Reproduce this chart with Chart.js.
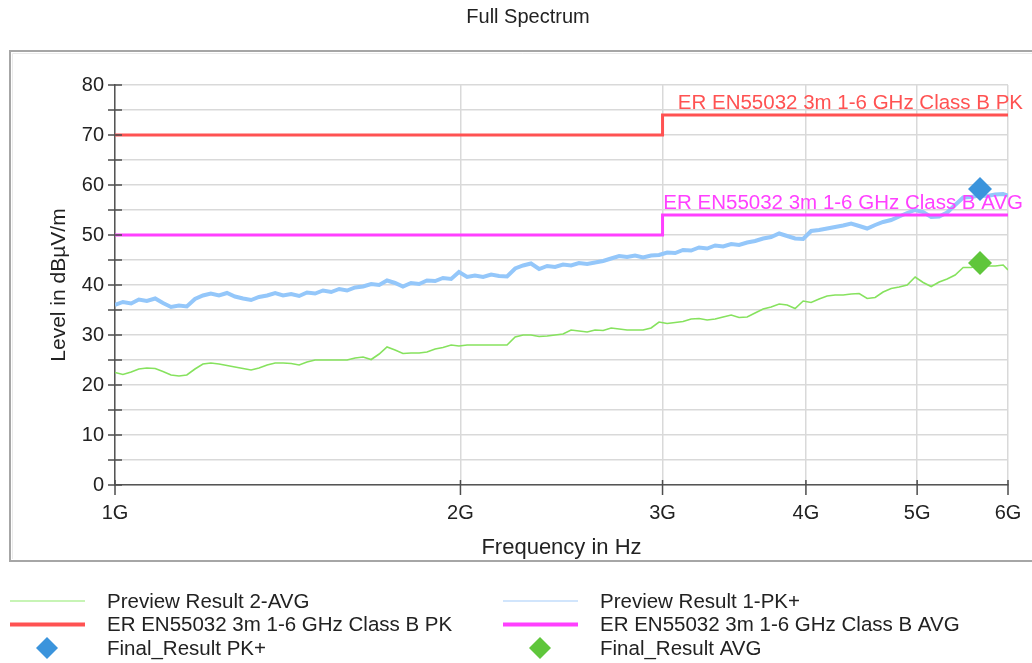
<!DOCTYPE html>
<html><head><meta charset="utf-8">
<script src="https://cdn.jsdelivr.net/npm/chart.js@4.4.1/dist/chart.umd.min.js"></script>
<style>html,body{margin:0;padding:0;background:#fff;overflow:hidden}#wrap{width:1032px;height:663px;position:relative}canvas{display:block}</style>
</head><body><div id="wrap"><canvas id="c" width="1032" height="663"></canvas></div>
<script>
const chartTitle = 'Full Spectrum';
const xAxisTitle = 'Frequency in Hz';
const yAxisTitle = 'Level in dBµV/m';

const freqMHz = [1000,1016,1033,1049,1066,1084,1101,1119,1137,1155,
1174,1193,1212,1232,1252,1272,1293,1314,1335,1357,
1379,1401,1424,1447,1470,1494,1518,1543,1568,1593,
1619,1645,1672,1699,1726,1754,1782,1811,1841,1870,
1901,1931,1963,1994,2027,2059,2093,2127,2161,2196,
2232,2268,2304,2342,2380,2418,2457,2497,2537,2579,
2620,2663,2706,2750,2794,2839,2885,2932,2979,3028,
3077,3126,3177,3228,3281,3334,3388,3443,3498,3555,
3612,3671,3730,3791,3852,3914,3978,4042,4107,4174,
4241,4310,4380,4451,4523,4596,4670,4746,4823,4901,
4980,5061,5143,5226,5310,5396,5484,5573,5663,5754,
5848,5942,6000];

const previewPK = [36.0,36.6,36.3,37.1,36.8,37.3,36.4,35.6,35.9,35.7,
37.2,37.9,38.3,37.9,38.4,37.7,37.3,37.0,37.6,37.9,
38.4,37.9,38.2,37.8,38.5,38.3,38.9,38.6,39.2,38.9,
39.5,39.7,40.2,40.0,40.9,40.4,39.7,40.4,40.2,40.9,
40.8,41.4,41.2,42.6,41.6,41.9,41.6,42.1,41.8,41.7,
43.3,43.9,44.3,43.2,43.8,43.6,44.1,43.9,44.4,44.2,
44.5,44.8,45.3,45.8,45.6,45.9,45.5,45.9,46.0,46.5,
46.4,47.0,46.9,47.5,47.3,47.9,47.7,48.2,48.0,48.5,
48.8,49.3,49.6,50.3,49.8,49.3,49.2,50.8,51.0,51.3,
51.6,51.9,52.3,51.8,51.3,52.0,52.6,53.0,53.7,54.4,
55.0,54.6,53.6,53.7,54.5,56.0,57.5,57.6,57.9,57.8,
58.1,58.2,57.9];

const previewAVG = [22.5,22.1,22.6,23.2,23.4,23.3,22.7,22.0,21.8,22.0,
23.2,24.2,24.4,24.2,23.9,23.6,23.3,23.0,23.4,24.0,
24.4,24.4,24.3,24.0,24.6,25.0,25.0,25.0,25.0,25.0,
25.4,25.6,25.1,26.2,27.6,27.0,26.3,26.4,26.4,26.6,
27.2,27.5,28.0,27.8,28.0,28.0,28.0,28.0,28.0,28.0,
29.6,30.0,30.0,29.7,29.8,30.0,30.2,31.0,30.8,30.6,
31.0,30.9,31.4,31.2,31.0,31.0,31.0,31.4,32.6,32.3,
32.5,32.7,33.2,33.3,33.0,33.2,33.6,34.0,33.5,33.6,
34.4,35.2,35.6,36.2,36.0,35.3,36.8,36.5,37.2,37.8,
38.0,38.0,38.2,38.3,37.3,37.5,38.6,39.3,39.6,40.0,
41.6,40.5,39.7,40.6,41.2,42.0,43.5,43.5,44.0,43.8,
43.8,44.0,43.0];

const limitFreq = [1000, 3000, 3000, 6000];
const limitPK = [70, 70, 74, 74];
const limitAVG = [50, 50, 54, 54];

const finalFreq = [5672];
const finalPK = [59.2];
const finalAVG = [44.4];

const xTicks = [1000, 2000, 3000, 4000, 5000, 6000];
const xTickLabels = ['1G', '2G', '3G', '4G', '5G', '6G'];

const seriesNames = ['Preview Result 2-AVG', 'Preview Result 1-PK+',
  'ER EN55032 3m 1-6 GHz Class B PK', 'ER EN55032 3m 1-6 GHz Class B AVG',
  'Final_Result PK+', 'Final_Result AVG'];

const FONT = '"Liberation Sans", Arial, sans-serif';
const pts = (xs, ys) => xs.map((x, i) => ({x: x, y: ys[i]}));

const datasets = [
  {label: seriesNames[0], data: pts(freqMHz, previewAVG), showLine: true, borderColor: '#86e25e', borderWidth: 1.6, pointRadius: 0, order: 4, legendWidth: 1.5, legendColor: '#b5f09c'},
  {label: seriesNames[1], data: pts(freqMHz, previewPK), showLine: true, borderColor: '#94c7fa', borderWidth: 4, pointRadius: 0, order: 3, legendWidth: 1.5, legendColor: '#c2ddfb'},
  {label: seriesNames[2], data: pts(limitFreq, limitPK), showLine: true, borderColor: '#ff5252', borderWidth: 3, pointRadius: 0, order: 2, legendWidth: 4, limitLabel: true, labelDx: 15},
  {label: seriesNames[3], data: pts(limitFreq, limitAVG), showLine: true, borderColor: '#ff40ff', borderWidth: 3, pointRadius: 0, order: 1, legendWidth: 4, limitLabel: true, labelDx: 15},
  {label: seriesNames[4], data: pts(finalFreq, finalPK), showLine: false, backgroundColor: '#3b94dc', borderColor: '#3b94dc', borderWidth: 0, pointStyle: 'rectRot', pointRadius: 12, order: 0},
  {label: seriesNames[5], data: pts(finalFreq, finalAVG), showLine: false, backgroundColor: '#5fc63b', borderColor: '#5fc63b', borderWidth: 0, pointStyle: 'rectRot', pointRadius: 12, order: 0}
];

const decor = {
  id: 'decor',
  beforeDraw(chart) {
    const ctx = chart.ctx;
    ctx.save();
    ctx.fillStyle = '#fff';
    ctx.fillRect(0, 0, chart.width, chart.height);
    ctx.strokeStyle = '#ebebeb';
    ctx.lineWidth = 1;
    ctx.beginPath();
    ctx.moveTo(1040, 53.5); ctx.lineTo(12.5, 53.5); ctx.lineTo(12.5, 559);
    ctx.stroke();
    ctx.strokeStyle = '#a6a6a6';
    ctx.lineWidth = 2;
    ctx.beginPath();
    ctx.moveTo(1040, 51); ctx.lineTo(10, 51); ctx.lineTo(10, 561); ctx.lineTo(1040, 561);
    ctx.stroke();
    // chart title
    ctx.fillStyle = '#222';
    ctx.font = '20px ' + FONT;
    ctx.textAlign = 'center';
    ctx.textBaseline = 'middle';
    ctx.fillText(chartTitle, 528, 17);
    ctx.restore();
  },
  afterDraw(chart) {
    const ctx = chart.ctx;
    const xs = chart.scales.x, ys = chart.scales.y, a = chart.chartArea;
    ctx.save();
    // axis tick marks crossing the axes
    ctx.strokeStyle = '#4d4d4d';
    ctx.lineWidth = 1.5;
    ctx.beginPath();
    ys.ticks.forEach(t => { const p = ys.getPixelForValue(t.value); ctx.moveTo(a.left - 7, p); ctx.lineTo(a.left + 7, p); });
    xs.ticks.forEach(t => { const p = xs.getPixelForValue(t.value); ctx.moveTo(p, a.bottom - 5); ctx.lineTo(p, a.bottom + 10); });
    ctx.stroke();
    // limit line labels
    ctx.font = '20.5px ' + FONT;
    ctx.textAlign = 'right';
    ctx.textBaseline = 'middle';
    chart.data.datasets.forEach(ds => {
      if (!ds.limitLabel) return;
      const last = ds.data[ds.data.length - 1];
      ctx.fillStyle = ds.borderColor;
      ctx.fillText(ds.label, a.right + ds.labelDx, ys.getPixelForValue(last.y) - 12);
    });
    // legend: two columns, three rows
    ctx.textAlign = 'left';
    chart.data.datasets.forEach((ds, i) => {
      const col = i % 2, row = Math.floor(i / 2);
      const x0 = col ? 503 : 10;
      const y0 = 601 + row * 23.5;
      if (ds.pointStyle) {
        const r = 11;
        const cx = x0 + 37;
        ctx.fillStyle = ds.backgroundColor;
        ctx.beginPath();
        ctx.moveTo(cx, y0 - r); ctx.lineTo(cx + r, y0); ctx.lineTo(cx, y0 + r); ctx.lineTo(cx - r, y0);
        ctx.closePath();
        ctx.fill();
      } else {
        ctx.strokeStyle = ds.legendColor || ds.borderColor;
        ctx.lineWidth = ds.legendWidth;
        ctx.beginPath();
        ctx.moveTo(x0, y0); ctx.lineTo(x0 + 75, y0);
        ctx.stroke();
      }
      ctx.fillStyle = '#222';
      ctx.fillText(ds.label, x0 + 97, y0 + 1);
    });
    ctx.restore();
  }
};

new Chart(document.getElementById('c'), {
  type: 'scatter',
  data: {datasets: datasets},
  plugins: [decor],
  options: {
    responsive: false,
    devicePixelRatio: 1,
    animation: false,
    layout: {padding: {left: 0, right: 24, top: 85, bottom: 98}},
    plugins: {
      legend: {display: false},
      tooltip: {enabled: false},
      title: {display: false}
    },
    scales: {
      x: {
        type: 'logarithmic', min: 1000, max: 6000,
        afterBuildTicks: s => { s.ticks = xTicks.map(v => ({value: v})); },
        afterFit: s => { s.height = 80; },
        ticks: {callback: v => xTickLabels[xTicks.indexOf(v)], color: '#222', font: {family: FONT, size: 20}, padding: 0, maxRotation: 0, autoSkip: false},
        grid: {color: '#d9d9d9', lineWidth: 1.5, drawTicks: true, tickLength: 16, tickColor: 'rgba(0,0,0,0)'},
        border: {display: true, color: '#555', width: 1.5},
        title: {display: true, text: xAxisTitle, color: '#222', font: {family: FONT, size: 22}, padding: {top: 0, bottom: 4}}
      },
      y: {
        min: 0, max: 80,
        afterFit: s => { s.width = 115; },
        ticks: {stepSize: 5, autoSkip: false, callback: v => (v % 10 === 0 ? String(v) : ''), color: '#222', font: {family: FONT, size: 20}, padding: 11},
        grid: {color: '#d9d9d9', lineWidth: 1.5, drawTicks: false},
        border: {display: true, color: '#555', width: 1.5},
        title: {display: true, text: yAxisTitle, color: '#222', font: {family: FONT, size: 21}, padding: {top: 47, bottom: 0}}
      }
    }
  }
});
</script></body></html>
